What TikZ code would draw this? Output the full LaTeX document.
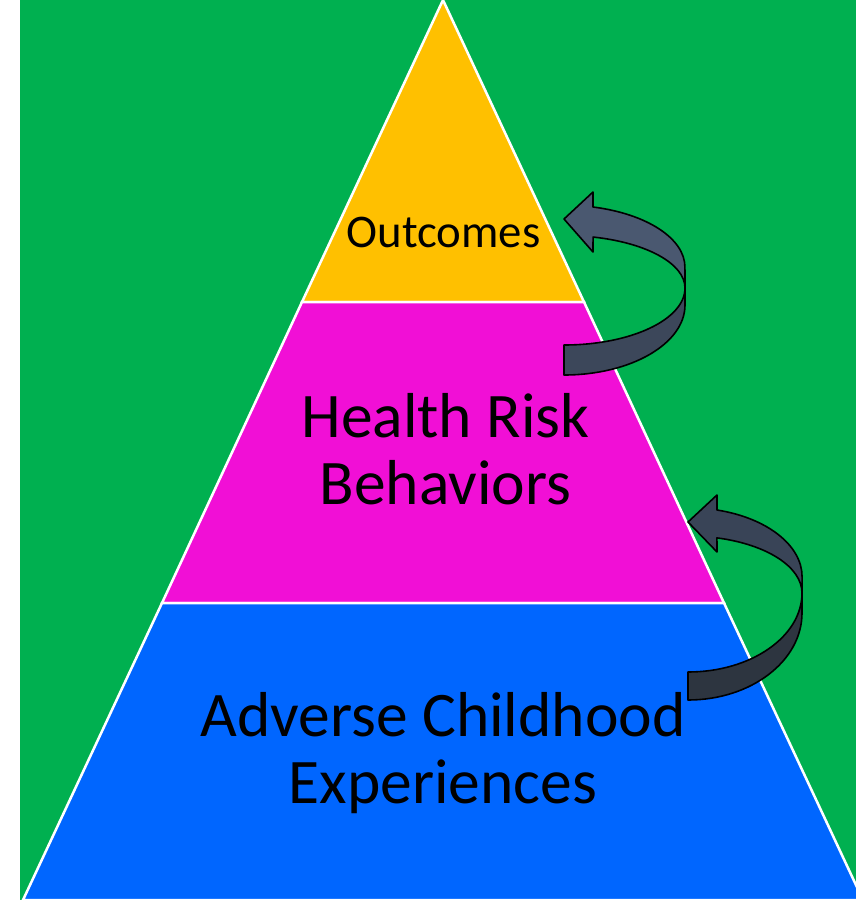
\documentclass[tikz,border=0pt]{standalone}
\usepackage{fontspec}
\setmainfont{Carlito}
\definecolor{bggreen}{HTML}{00B050}
\definecolor{topyellow}{HTML}{FFC000}
\definecolor{midmagenta}{HTML}{F10FD6}
\definecolor{lowblue}{HTML}{0066FF}
\definecolor{arrowlight}{HTML}{4A5870}
\definecolor{arrowdark}{HTML}{3C475A}
\definecolor{arrowlighttwo}{HTML}{394457}
\definecolor{arrowdarktwo}{HTML}{2D3540}
\tikzset{
  layer/.style={draw=white,line width=2.5pt,line join=miter},
  band/.style={draw=black,line width=1.6pt,line join=round},
  label/.style={font=\fontsize{63.5}{67}\selectfont,align=center,inner sep=0pt,anchor=base}
}
\begin{document}
\begin{tikzpicture}[x=1pt,y=-1pt]
  \useasboundingbox (0,0) rectangle (856,900);
  \clip (0,0) rectangle (856,900);
  \fill[bggreen] (20,0) rectangle (856,900);

  % pyramid layers
  \filldraw[layer,fill=topyellow] (443,0) -- (584,302) -- (302,302) -- cycle;
  \filldraw[layer,fill=midmagenta] (302,302) -- (584,302) -- (724,603) -- (162,603) -- cycle;
  \filldraw[layer,fill=lowblue] (162,603) -- (724,603) -- (863,900) -- (23,900) -- cycle;

  % base anchor sits on the last line
  \node[label,font=\fontsize{46.8}{50}\selectfont] (outcomes) at (443.5,247) {Outcomes};
  \node[label] (behaviors) at (445.5,504) {Health Risk\\Behaviors};
  \node[label] (aces) at (443,803) {Adverse Childhood\\Experiences};

  % upper curved arrow
  \filldraw[band,fill=arrowdark] (564,375)
    arc[start angle=90,end angle=0,x radius=121,y radius=70]
    -- (685,288)
    arc[start angle=0,end angle=90,x radius=121,y radius=57] -- cycle;
  \filldraw[band,fill=arrowlight] (685,288)
    arc[start angle=0,end angle=-76.1,x radius=121,y radius=52.5]
    -- (593,252) -- (564,219) -- (593,192) -- (593,207)
    arc[start angle=-76.1,end angle=0,x radius=121,y radius=62] -- cycle;

  % lower curved arrow
  \filldraw[band,fill=arrowdarktwo] (688,700)
    arc[start angle=90,end angle=0,x radius=114,y radius=87]
    -- (802,593)
    arc[start angle=0,end angle=90,x radius=114,y radius=79] -- cycle;
  \filldraw[band,fill=arrowlighttwo] (802,593)
    arc[start angle=0,end angle=-75.3,x radius=114,y radius=57]
    -- (717,552) -- (688,522) -- (717,495) -- (717,510)
    arc[start angle=-75.3,end angle=0,x radius=114,y radius=69] -- cycle;
\end{tikzpicture}
\end{document}
